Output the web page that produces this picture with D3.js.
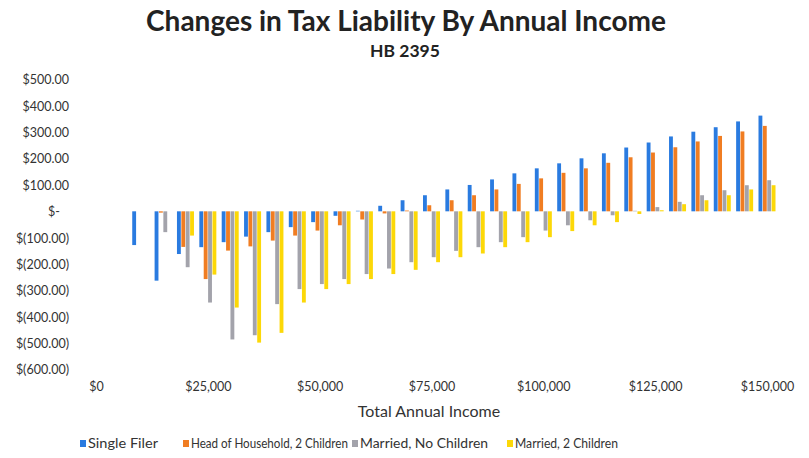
<!DOCTYPE html>
<html>
<head>
<meta charset="utf-8">
<script src="https://cdn.jsdelivr.net/npm/d3@7"></script>
<style>
  html, body { margin: 0; padding: 0; background: #fff; }
  svg text { font-family: Lato, "Open Sans", sans-serif; }
</style>
</head>
<body>
<svg id="chart" width="809" height="458"></svg>
<script>
// Income levels ($5,000 steps) and change in tax liability per filer type
const incomes = [10000, 15000, 20000, 25000, 30000, 35000, 40000, 45000, 50000, 55000,
                 60000, 65000, 70000, 75000, 80000, 85000, 90000, 95000, 100000, 105000,
                 110000, 115000, 120000, 125000, 130000, 135000, 140000, 145000, 150000];

const singleFiler = [-128, -263, -162, -136, -117, -96, -79, -60, -41, -17,
                     2, 21, 42, 61, 83, 100, 121, 144, 163, 182,
                     201, 220, 242, 261, 284, 302, 319, 341, 363];

const headOfHousehold = [0, -5, -135, -257, -149, -133, -111, -92, -73, -53,
                         -31, -8, 3, 23, 42, 61, 83, 104, 125, 146,
                         163, 184, 205, 223, 243, 265, 286, 303, 324];

const marriedNoChildren = [0, -79, -212, -346, -486, -470, -352, -295, -276, -257,
                           -238, -217, -193, -174, -150, -136, -117, -98, -73, -53,
                           -34, -15, 2, 16, 36, 61, 80, 99, 118];

const married2Children = [0, 0, -92, -240, -365, -498, -461, -346, -295, -276,
                          -257, -238, -222, -193, -174, -160, -136, -117, -98, -75,
                          -53, -41, -10, 4, 27, 42, 61, 83, 99];

const seriesNames = ["Single Filer", "Head of Household, 2 Children", "Married, No Children", "Married, 2 Children"];
const seriesColors = ["#2a7be0", "#f07d22", "#a3a3ab", "#fcd808"];
const xTicks = [0, 25000, 50000, 75000, 100000, 125000, 150000];
const yTicks = [500, 400, 300, 200, 100, 0, -100, -200, -300, -400, -500, -600];

const allSeries = [singleFiler, headOfHousehold, marriedNoChildren, married2Children];

const svg = d3.select("#chart");

const x = d3.scaleLinear().domain([0, 150000]).range([96, 767]);
const y = d3.scaleLinear().domain([-600, 500]).range([369.5, 79.5]);

// Bars within each income group
const inner = d3.scaleBand().domain(d3.range(4)).range([-8.5, 8.5]).paddingInner(0.12);

const rows = incomes.map((inc, i) => allSeries.map((s, k) => ({ inc, k, v: s[i] })));

svg.append("g")
  .selectAll("g")
  .data(rows)
  .join("g")
  .attr("transform", d => `translate(${x(d[0].inc)},0)`)
  .selectAll("rect")
  .data(d => d)
  .join("rect")
  .attr("x", d => inner(d.k))
  .attr("width", inner.bandwidth())
  .attr("y", d => y(Math.max(0, d.v)))
  .attr("height", d => Math.abs(y(d.v) - y(0)))
  .attr("fill", d => seriesColors[d.k]);

// Currency labels on the value axis
const fmtMoney = v => {
  if (v === 0) return "$-";
  const s = d3.format(",.2f")(Math.abs(v));
  return v < 0 ? `$(${s})` : `$${s}`;
};

const yAxis = d3.axisLeft(y).tickValues(yTicks).tickFormat(fmtMoney).tickSize(0).tickPadding(0);
const gy = svg.append("g").attr("transform", "translate(69,0)").call(yAxis);
gy.select(".domain").remove();
gy.selectAll("text")
  .attr("font-size", 12.5)
  .attr("fill", "#333")
  .attr("dy", "0.35em")
  .attr("dx", d => d === 0 ? -9 : 0);

const xAxis = d3.axisBottom(x).tickValues(xTicks)
  .tickFormat(v => "$" + d3.format(",")(v)).tickSize(0).tickPadding(0);
const gx = svg.append("g").attr("transform", "translate(0,387)").call(xAxis);
gx.select(".domain").remove();
gx.selectAll("text").attr("font-size", 12.5).attr("fill", "#333").attr("dy", "0.35em");

// Titles
svg.append("text")
  .attr("x", 406).attr("y", 31)
  .attr("text-anchor", "middle")
  .attr("font-size", 28).attr("font-weight", "bold").attr("fill", "#222")
  .text("Changes in Tax Liability By Annual Income");

svg.append("text")
  .attr("x", 405).attr("y", 57)
  .attr("text-anchor", "middle")
  .attr("font-size", 17.5).attr("font-weight", "bold").attr("fill", "#222")
  .text("HB 2395");

svg.append("text")
  .attr("x", 429).attr("y", 417)
  .attr("text-anchor", "middle")
  .attr("font-size", 16).attr("fill", "#333")
  .text("Total Annual Income");

// Legend
const legendX = [80, 183, 352, 507];
const legendW = [70, 157, 128, 103];
const legend = svg.append("g")
  .selectAll("g")
  .data(seriesNames)
  .join("g")
  .attr("transform", (d, i) => `translate(${legendX[i]},444)`);
legend.append("rect")
  .attr("x", 0).attr("y", -4).attr("width", 6).attr("height", 7)
  .attr("fill", (d, i) => seriesColors[i]);
legend.append("text")
  .attr("x", 8).attr("y", 0).attr("dy", "0.35em")
  .attr("font-size", 12.5).attr("fill", "#333")
  .attr("textLength", (d, i) => legendW[i])
  .attr("lengthAdjust", "spacingAndGlyphs")
  .text(d => d);
</script>
</body>
</html>
